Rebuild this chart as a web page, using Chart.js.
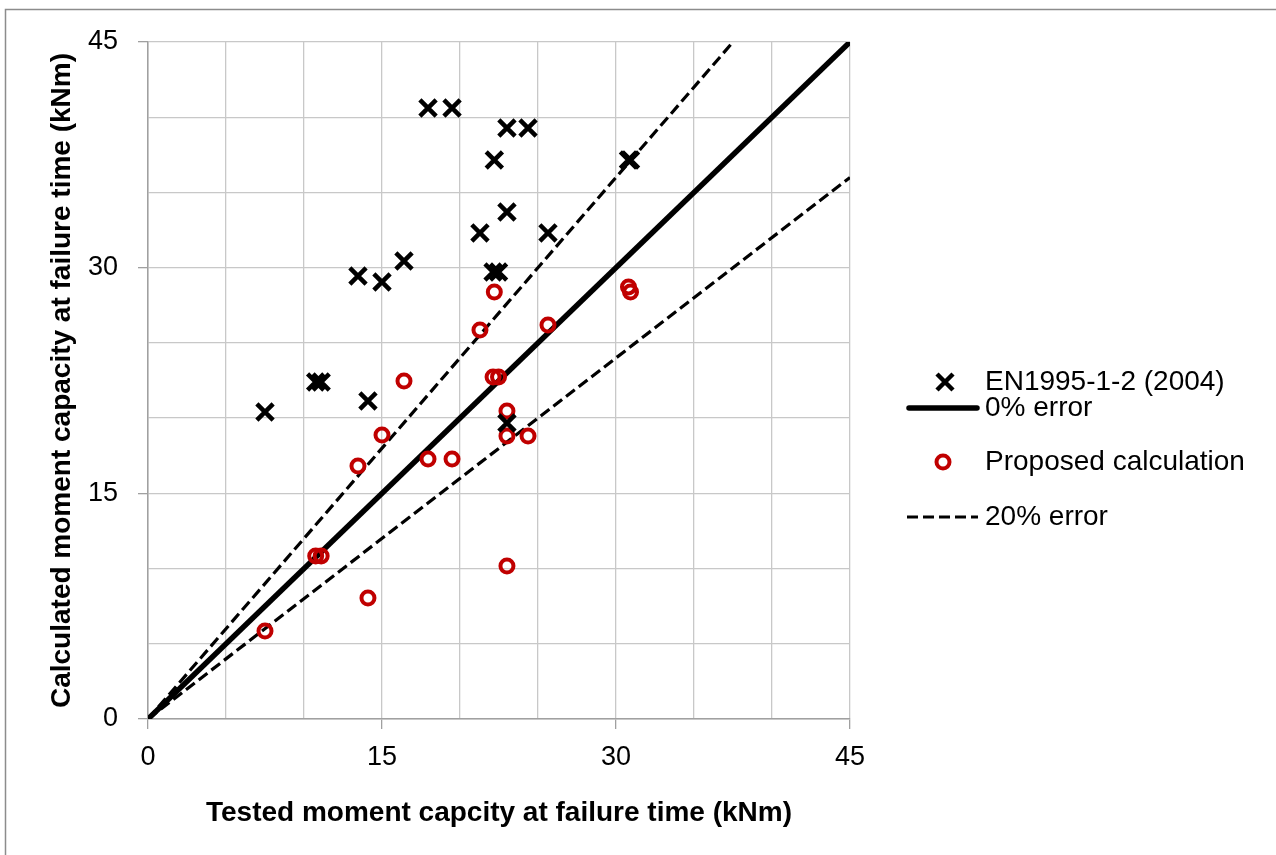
<!DOCTYPE html>
<html>
<head>
<meta charset="utf-8">
<script src="https://cdn.jsdelivr.net/npm/chart.js@4/dist/chart.umd.min.js"></script>
<style>
html,body{margin:0;padding:0;background:#fff;}
#wrap{position:relative;width:1276px;height:855px;}
</style>
</head>
<body>
<div id="wrap"><canvas id="c" width="1276" height="855"></canvas></div>
<script>
// ---- data ----
const tested   = [7.50, 10.75, 11.10, 14.10, 13.46, 15.00, 16.41, 17.95, 19.49, 21.28, 22.20, 22.12, 22.47, 23.01, 23.01, 23.01, 24.36, 25.64, 30.80, 30.93];
const en1995   = [20.41, 22.40, 22.40, 21.14, 29.45, 29.05, 30.44, 40.61, 40.61, 32.31, 37.16, 29.71, 29.71, 39.28, 33.70, 19.68, 39.28, 32.31, 37.16, 37.16];
const proposed = [5.85, 10.84, 10.84, 8.04, 16.82, 18.88, 22.47, 17.28, 17.28, 25.86, 28.38, 22.73, 22.73, 20.47, 18.81, 10.17, 18.81, 26.19, 28.72, 28.38];
const zeroErrX   = [0, 45];
const zeroErrY   = [0, 45];
const upperErrX  = [0, 37.5];
const upperErrY  = [0, 45];
const lowerErrX  = [0, 45];
const lowerErrY  = [0, 36];
const axisTicks  = [0, 15, 30, 45];
const seriesNames = ['EN1995-1-2 (2004)', '0% error', 'Proposed calculation', '20% error'];
const xTitle = 'Tested moment capcity at failure time (kNm)';
const yTitle = 'Calculated moment capacity at failure time (kNm)';

const pts = (xs, ys) => xs.map((x, i) => ({x: x, y: ys[i]}));

const FONT = '"Liberation Sans", Arial, sans-serif';
const RED = '#c00000';
const GRID = '#c8c8c8';
const AXIS = '#a0a0a0';

const framePlugin = {
  id: 'frame',
  beforeDraw(chart) {
    const ctx = chart.ctx;
    ctx.save();
    ctx.fillStyle = '#fff';
    ctx.fillRect(0, 0, chart.width, chart.height);
    ctx.strokeStyle = '#8c8c8c';
    ctx.lineWidth = 1.5;
    ctx.beginPath();
    ctx.moveTo(5.5, chart.height);
    ctx.lineTo(5.5, 9.5);
    ctx.lineTo(chart.width, 9.5);
    ctx.stroke();
    ctx.restore();
  }
};

const legendPlugin = {
  id: 'customLegend',
  afterDraw(chart) {
    const ctx = chart.ctx;
    const tx = 985;
    const rows = [382, 408, 462, 517];
    ctx.save();
    // X marker
    ctx.strokeStyle = '#000';
    ctx.lineWidth = 4.5;
    ctx.beginPath();
    ctx.moveTo(945 - 8, rows[0] - 8); ctx.lineTo(945 + 8, rows[0] + 8);
    ctx.moveTo(945 + 8, rows[0] - 8); ctx.lineTo(945 - 8, rows[0] + 8);
    ctx.stroke();
    // solid line
    ctx.lineWidth = 5.5;
    ctx.lineCap = 'round';
    ctx.beginPath();
    ctx.moveTo(909, rows[1]); ctx.lineTo(977, rows[1]);
    ctx.stroke();
    // circle
    ctx.lineCap = 'butt';
    ctx.strokeStyle = RED;
    ctx.lineWidth = 4;
    ctx.beginPath();
    ctx.arc(943, rows[2], 6.5, 0, Math.PI * 2);
    ctx.stroke();
    // dashed
    ctx.strokeStyle = '#000';
    ctx.lineWidth = 3.2;
    ctx.setLineDash([11, 5]);
    ctx.beginPath();
    ctx.moveTo(907, rows[3]); ctx.lineTo(978, rows[3]);
    ctx.stroke();
    ctx.setLineDash([]);
    // texts
    ctx.fillStyle = '#000';
    ctx.font = '28px ' + FONT;
    ctx.textAlign = 'left';
    ctx.textBaseline = 'middle';
    seriesNames.forEach((n, i) => ctx.fillText(n, tx, rows[i]));
    ctx.restore();
  }
};

new Chart(document.getElementById('c'), {
  type: 'scatter',
  data: {
    datasets: [
      {
        label: seriesNames[0],
        data: pts(tested, en1995),
        pointStyle: 'crossRot',
        pointRadius: 11.5,
        pointBorderWidth: 4.5,
        borderColor: '#000',
        backgroundColor: '#000',
        showLine: false,
        order: 0
      },
      {
        label: seriesNames[1],
        data: pts(zeroErrX, zeroErrY),
        showLine: true,
        borderColor: '#000',
        borderWidth: 5.5,
        pointRadius: 0,
        order: 2
      },
      {
        label: seriesNames[2],
        data: pts(tested, proposed),
        pointStyle: 'circle',
        pointRadius: 6.5,
        pointBorderWidth: 4,
        borderColor: RED,
        backgroundColor: 'rgba(0,0,0,0)',
        showLine: false,
        order: 1
      },
      {
        label: seriesNames[3],
        data: pts(upperErrX, upperErrY),
        showLine: true,
        borderColor: '#000',
        borderWidth: 3.2,
        borderDash: [11, 5],
        pointRadius: 0,
        order: 3
      },
      {
        label: '',
        data: pts(lowerErrX, lowerErrY),
        showLine: true,
        borderColor: '#000',
        borderWidth: 3.2,
        borderDash: [11, 5],
        pointRadius: 0,
        order: 3
      }
    ]
  },
  options: {
    responsive: false,
    animation: false,
    events: [],
    layout: { padding: { left: 0, top: 42, right: 426, bottom: 0 } },
    plugins: { legend: { display: false }, tooltip: { enabled: false } },
    scales: {
      x: {
        type: 'linear',
        min: 0, max: 45,
        afterFit(s) { s.height = 136; },
        ticks: {
          stepSize: 5,
          padding: 12,
          color: '#000',
          font: { family: FONT, size: 27 },
          maxRotation: 0,
          autoSkip: false,
          callback: v => axisTicks.includes(v) ? String(v) : ''
        },
        grid: {
          color: GRID,
          lineWidth: 1.3,
          tickLength: 10,
          tickColor: c => (c.tick && axisTicks.includes(c.tick.value)) ? AXIS : 'rgba(0,0,0,0)'
        },
        border: { color: AXIS, width: 1.5 },
        title: {
          display: true,
          text: xTitle,
          color: '#000',
          font: { family: FONT, size: 28, weight: 'bold' },
          padding: { top: 0, bottom: 25 }
        }
      },
      y: {
        type: 'linear',
        min: 0, max: 45,
        afterFit(s) { s.width = 148; },
        ticks: {
          stepSize: 5,
          padding: 20,
          color: '#000',
          font: { family: FONT, size: 27 },
          autoSkip: false,
          callback: v => axisTicks.includes(v) ? String(v) : ''
        },
        grid: {
          color: GRID,
          lineWidth: 1.3,
          tickLength: 10,
          tickColor: c => (c.tick && axisTicks.includes(c.tick.value)) ? AXIS : 'rgba(0,0,0,0)'
        },
        border: { color: AXIS, width: 1.5 },
        title: {
          display: true,
          text: yTitle,
          color: '#000',
          font: { family: FONT, size: 28, weight: 'bold' },
          padding: { top: 45, bottom: 0 }
        }
      }
    }
  },
  plugins: [framePlugin, legendPlugin]
});
</script>
</body>
</html>
